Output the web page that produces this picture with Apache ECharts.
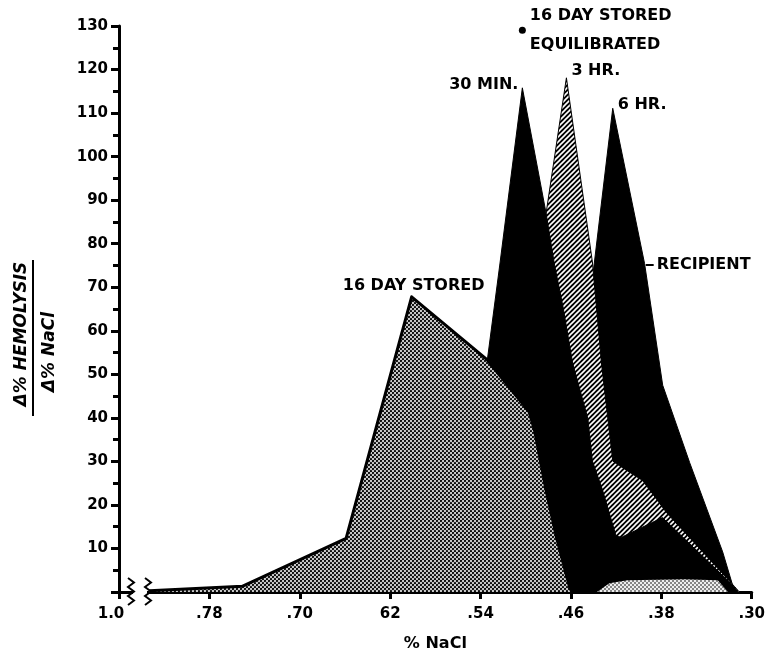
<!DOCTYPE html>
<html>
<head>
<meta charset="utf-8">
<script src="https://cdn.jsdelivr.net/npm/echarts@6/dist/echarts.min.js"></script>
<style>
html, body { margin: 0; padding: 0; background: #fff; }
#charts { width: 768px; height: 657px; }
</style>
</head>
<body>
<div id="charts"></div>
<script>
// x values are % NaCl, y values are delta % hemolysis / delta % NaCl
const xTickValues = [0.30, 0.38, 0.46, 0.54, 0.62, 0.70, 0.78, 0.86];
const xTickLabels = ['.30', '.38', '.46', '.54', '62', '.70', '.78', '1.0'];

const storedX = [0.833, 0.751, 0.659, 0.601, 0.534, 0.497, 0.492, 0.482, 0.473, 0.461, 0.459];
const storedY = [0.3, 1.3, 12.3, 67.8, 53.3, 41.4, 36.9, 23.4, 12.8, 0.9, 0];

const storedTailX = [0.437, 0.426, 0.41, 0.36, 0.33, 0.321];
const storedTailY = [0, 2.0, 2.7, 2.9, 2.7, 0];

const min30X = [0.545, 0.534, 0.523, 0.503, 0.482, 0.4745, 0.467, 0.4585, 0.445, 0.441, 0.432, 0.420, 0.415, 0.379, 0.317, 0.312];
const min30Y = [0, 53.3, 75.1, 115.8, 87.0, 75.1, 65.5, 52.6, 39.8, 30.1, 23.4, 12.8, 12.6, 17.1, 1.6, 0];

const hr3X = [0.51, 0.50, 0.482, 0.464, 0.441, 0.433, 0.423, 0.420, 0.3965, 0.3753, 0.315, 0.311];
const hr3Y = [0, 55, 87, 118.1, 75.8, 52.6, 30.1, 29.5, 25.6, 18.2, 1.2, 0];

const hr6X = [0.474, 0.423, 0.3948, 0.3788, 0.3549, 0.3257, 0.3151];
const hr6Y = [0, 111.1, 75.4, 47.5, 29.7, 9.2, 0];

const equilibrated = [0.503, 129];

// curve labels: text, anchor point, placement
const labelTexts = ['30 MIN.', '3 HR.', '6 HR.', '16 DAY STORED'];
const labelPoints = [[0.503, 115.8], [0.464, 118.1], [0.423, 111.1], [0.601, 67.8]];
const recipientPoint = [0.3903, 75.1];

const FONT = 'DejaVu Sans';

function pair(xs, ys) {
    return xs.map((x, i) => [x * 100, ys[i]]);
}

// dotted screen like the printed stipple
function stipple(r, bg) {
    const c = document.createElement('canvas');
    c.width = 4; c.height = 4;
    const g = c.getContext('2d');
    g.fillStyle = bg;
    g.fillRect(0, 0, 4, 4);
    g.fillStyle = '#000';
    [[1, 1], [3, 3]].forEach(p => {
        g.beginPath();
        g.arc(p[0], p[1], r, 0, Math.PI * 2);
        g.fill();
    });
    return c;
}

// white diagonal stripes on black
function hatch() {
    const s = 5;
    const c = document.createElement('canvas');
    c.width = s; c.height = s;
    const g = c.getContext('2d');
    g.fillStyle = '#000';
    g.fillRect(0, 0, s, s);
    g.strokeStyle = '#fff';
    g.lineWidth = 1.6;
    [[0, s, s, 0], [-1, 1, 1, -1], [s - 1, s + 1, s + 1, s - 1]].forEach(l => {
        g.beginPath();
        g.moveTo(l[0], l[1]);
        g.lineTo(l[2], l[3]);
        g.stroke();
    });
    return c;
}

const labelStyle = {
    color: '#000000', opacity: 1, fontFamily: FONT, fontWeight: 'bold', fontSize: 16,
    textBorderWidth: 0, textShadowBlur: 0
};
const labelPlace = [
    { position: 'left', distance: 4, offset: [0, -3] },
    { position: 'right', distance: 5, offset: [0, -7] },
    { position: 'right', distance: 5, offset: [0, -3] },
    { position: 'top', distance: 3, offset: [2, 0] }
];

const option = {
    animation: false,
    grid: { left: 119, right: 16, top: 26, bottom: 53 },
    xAxis: {
        type: 'value',
        inverse: true,
        min: 30,
        max: 86,
        interval: 8,
        name: '% NaCl',
        nameLocation: 'middle',
        nameGap: 44,
        nameTextStyle: { color: '#000', fontFamily: FONT, fontWeight: 'bold', fontSize: 16 },
        splitLine: { show: false },
        axisLine: { show: true, onZero: false, lineStyle: { color: '#000', width: 3 } },
        axisTick: { show: true, length: 7, lineStyle: { color: '#000', width: 3 } },
        axisLabel: {
            margin: 15,
            color: '#000',
            fontFamily: FONT,
            fontWeight: 'bold',
            fontSize: 15,
            formatter: function (value) {
                const i = xTickValues.findIndex(v => Math.abs(v * 100 - value) < 0.01);
                if (i < 0) return '';
                return i === xTickValues.length - 1 ? '{o|' + xTickLabels[i] + '}' : xTickLabels[i];
            },
            rich: {
                o: { padding: [0, 16, 0, 0], color: '#000', fontFamily: FONT, fontWeight: 'bold', fontSize: 15 }
            }
        }
    },
    yAxis: {
        type: 'value',
        min: 0,
        max: 130,
        interval: 10,
        splitLine: { show: false },
        axisLine: { show: true, lineStyle: { color: '#000', width: 3 } },
        axisTick: { show: true, length: 8, lineStyle: { color: '#000', width: 3 } },
        minorTick: { show: true, splitNumber: 2, length: 6, lineStyle: { color: '#000', width: 3 } },
        axisLabel: {
            margin: 11,
            color: '#000',
            fontFamily: FONT,
            fontWeight: 'bold',
            fontSize: 15,
            formatter: function (value) {
                return value === 0 ? '' : String(value);
            }
        }
    },
    series: [
        {
            name: '6 HR.',
            type: 'line',
            z: 1,
            symbol: 'none',
            data: pair(hr6X, hr6Y),
            lineStyle: { color: '#000', width: 1 },
            areaStyle: { color: '#000', opacity: 1 }
        },
        {
            name: '3 HR.',
            type: 'line',
            z: 2,
            symbol: 'none',
            data: pair(hr3X, hr3Y),
            lineStyle: { color: '#000', width: 1 },
            areaStyle: { color: { image: hatch(), repeat: 'repeat' }, opacity: 1 }
        },
        {
            name: '30 MIN.',
            type: 'line',
            z: 3,
            symbol: 'none',
            data: pair(min30X, min30Y),
            lineStyle: { color: '#000', width: 1 },
            areaStyle: { color: '#000', opacity: 1 }
        },
        {
            name: '16 DAY STORED',
            type: 'line',
            z: 4,
            symbol: 'none',
            data: pair(storedX, storedY),
            lineStyle: { color: '#000', width: 3, join: 'round' },
            areaStyle: { color: { image: stipple(1.1, '#c8c8c8'), repeat: 'repeat' }, opacity: 1 }
        },
        {
            name: '16 DAY STORED tail',
            type: 'line',
            z: 4,
            symbol: 'none',
            data: pair(storedTailX, storedTailY),
            lineStyle: { width: 0, opacity: 0 },
            areaStyle: { color: { image: stipple(0.8, '#eeeeee'), repeat: 'repeat' }, opacity: 1 }
        },
        {
            name: '16 DAY STORED EQUILIBRATED',
            type: 'scatter',
            z: 5,
            symbol: 'circle',
            symbolSize: 7,
            itemStyle: { color: '#000', opacity: 1 },
            data: [[equilibrated[0] * 100, equilibrated[1]]],
            label: Object.assign({
                show: true,
                position: 'right',
                distance: 4,
                align: 'left',
                lineHeight: 29,
                formatter: '16 DAY STORED\nEQUILIBRATED'
            }, labelStyle)
        },
        {
            name: 'labels',
            type: 'scatter',
            z: 5,
            symbolSize: 0,
            silent: true,
            data: labelPoints.map((p, i) => ({
                value: [p[0] * 100, p[1]],
                label: Object.assign({ show: true, formatter: labelTexts[i] }, labelStyle, labelPlace[i])
            }))
        },
        {
            name: 'RECIPIENT',
            type: 'scatter',
            z: 5,
            symbol: 'rect',
            symbolSize: [8, 2],
            itemStyle: { color: '#000', opacity: 1 },
            data: [[recipientPoint[0] * 100, recipientPoint[1]]],
            label: Object.assign({ show: true, position: 'right', distance: 3, formatter: 'RECIPIENT' }, labelStyle)
        }
    ]
};

const chart = echarts.init(document.getElementById('charts'));
chart.setOption(option);

// y axis title (fraction) and the axis break marks near the origin
const origin = chart.convertToPixel({ xAxisIndex: 0, yAxisIndex: 0 }, [86, 0]);
function zigzag(cx, cy) {
    const pts = [];
    for (let i = 0; i <= 6; i++) {
        pts.push([cx + (i % 2 === 0 ? -3 : 3), cy - 14 + i * 4.5]);
    }
    return pts;
}
const titleFont = 'italic bold 17px "DejaVu Sans"';
chart.setOption({
    graphic: [
        {
            type: 'rect',
            shape: { x: origin[0] + 14, y: origin[1] - 4, width: 14, height: 8 },
            style: { fill: '#fff' },
            z: 100
        },
        {
            type: 'polyline',
            shape: { points: zigzag(origin[0] + 12, origin[1]) },
            style: { stroke: '#000', lineWidth: 2, fill: null },
            z: 101
        },
        {
            type: 'polyline',
            shape: { points: zigzag(origin[0] + 29, origin[1]) },
            style: { stroke: '#000', lineWidth: 2, fill: null },
            z: 101
        },
        {
            type: 'text',
            x: 22, y: 334,
            rotation: Math.PI / 2,
            style: { text: 'Δ% HEMOLYSIS', font: titleFont, fill: '#000', textAlign: 'center', textVerticalAlign: 'middle' }
        },
        {
            type: 'line',
            shape: { x1: 33, y1: 260, x2: 33, y2: 416 },
            style: { stroke: '#000', lineWidth: 2 }
        },
        {
            type: 'text',
            x: 50, y: 352,
            rotation: Math.PI / 2,
            style: { text: 'Δ% NaCl', font: titleFont, fill: '#000', textAlign: 'center', textVerticalAlign: 'middle' }
        }
    ]
});
</script>
</body>
</html>
